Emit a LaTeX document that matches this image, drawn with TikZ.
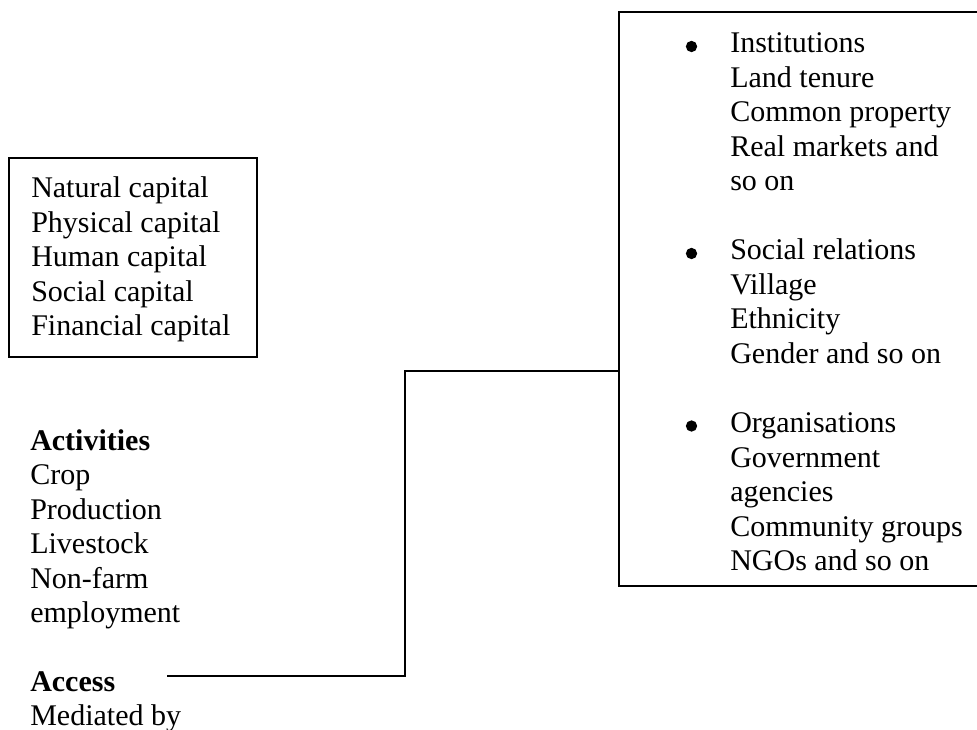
\documentclass[tikz,border=0pt]{standalone}
\usepackage{fontspec}
\setmainfont{Liberation Serif}
\begin{document}
\begin{tikzpicture}[x=0.75pt,y=-0.75pt,
  txt/.style={anchor=base west,inner sep=0pt,font=\fontsize{22.5}{26}\selectfont},
  boldtxt/.style={txt,font=\fontsize{22.5}{26}\selectfont\bfseries},
  frame/.style={draw,line width=1.4pt,rectangle,inner sep=0pt},
  bul/.style={circle,fill,draw=none,inner sep=0pt,minimum size=8.5pt},
  link/.style={line width=1.4pt}]
\useasboundingbox (0,0) rectangle (977,730);
\clip (0,0) rectangle (977,730);

% capital box
\node[frame,minimum width=186pt,minimum height=149.25pt] (capbox) at (133,257.5) {};
\foreach \t [count=\i] in {Natural capital,Physical capital,Human capital,Social capital,Financial capital}
  \node[txt] (cap\i) at (31,{198+34.5*(\i-1)}) {\t};

% activities
\node[boldtxt] (act) at (30,450) {Activities};
\foreach \t [count=\i] in {Crop,Production,Livestock,Non-farm,employment}
  \node[txt] (act\i) at (30,{450+34.5*\i}) {\t};

% access
\node[boldtxt] (acc) at (30,691.5) {Access};
\node[txt] (acc1) at (30,725) {Mediated by};

% right box
\node[frame,minimum width=285.75pt,minimum height=430.5pt] (rbox) at (809.5,299) {};
\node[bul] (b1) at (691.5,46.5) {};
\node[bul] (b2) at (691.5,253.5) {};
\node[bul] (b3) at (691.5,426) {};
\foreach \yy/\t [count=\i] in {53/Institutions,87.5/Land tenure,122/Common property,156.5/Real markets and,191/so on,
  260/Social relations,294.5/Village,329/Ethnicity,363.5/Gender and so on,
  432.5/Organisations,467/Government,501.5/agencies,536/Community groups,570.5/NGOs and so on}
  \node[txt] (r\i) at (730,\yy) {\t};

% connector
\coordinate (c1) at (167,676);
\coordinate (c2) at (rbox.west |- 0,371);
\draw[link] (c1) -- ++(238,0) |- (c2);
\end{tikzpicture}
\end{document}
